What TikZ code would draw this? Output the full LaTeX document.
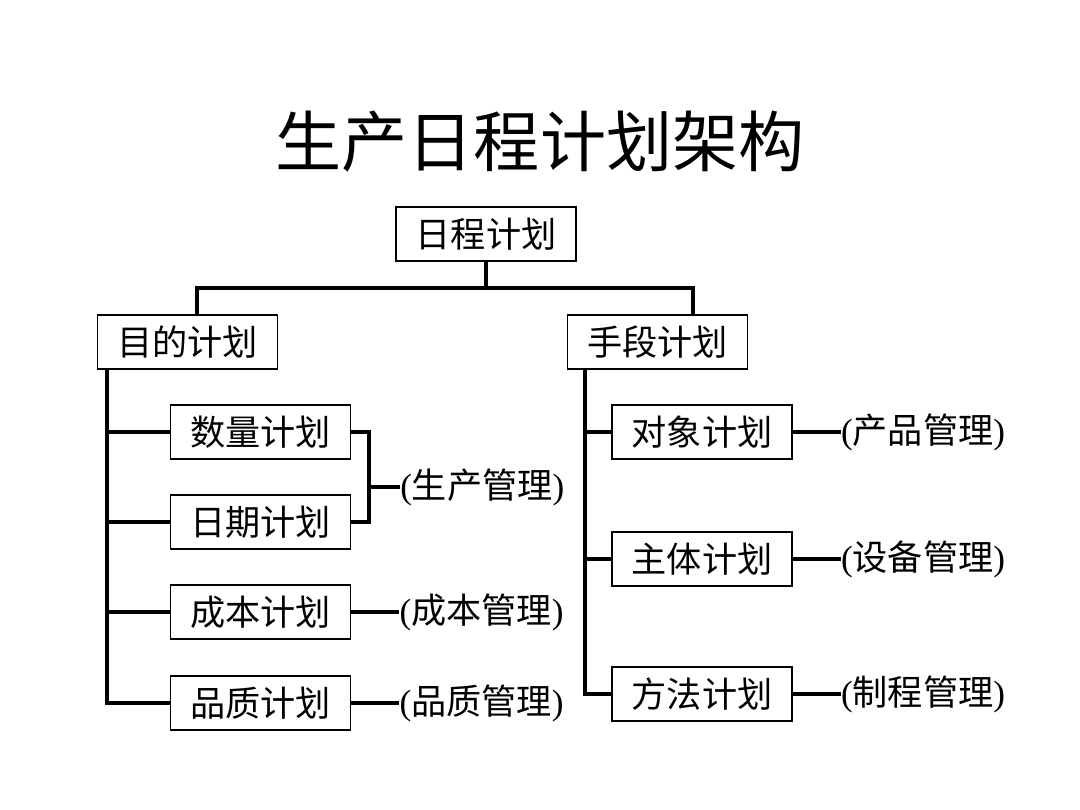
\documentclass[tikz,border=0pt]{standalone}
\usepackage{fontspec}
\setmainfont{Liberation Serif}
\newfontfamily\cjk{Noto Sans CJK SC}
\usetikzlibrary{positioning}
\newcommand{\mgmtlabel}[1]{({\cjk #1})}

\begin{document}
\begin{tikzpicture}[
  x=0.025cm, y=-0.025cm,
  node distance=1.2cm,
  plan/.style={rectangle, draw, line width=1.1pt, minimum width=4.5cm, minimum height=1.35cm, inner sep=0pt, font=\cjk\fontsize{25}{25}\selectfont},
  mgmt/.style={inner sep=0pt, font=\fontsize{25}{25}\selectfont},
  link/.style={line width=2.5pt},
]
  \useasboundingbox (0,0) rectangle (1080,810);
  \node[font=\cjk\fontsize{47}{47}\selectfont] (title) at (540,142) {生产日程计划架构};
  \node[plan] (root) at (486,234) {日程计划};
  \node[plan] (goal) at (187.5,342) {目的计划};
  \node[plan] (means) at (657.5,342) {手段计划};
  % goal side
  \node[plan] (qty) at (260.5,432) {数量计划};
  \node[plan] (date) at (260.5,522) {日期计划};
  \node[plan] (cost) at (260.5,612) {成本计划};
  \node[plan] (qual) at (260.5,703) {品质计划};
  % means side
  \node[plan] (object) at (702,432) {对象计划};
  \node[plan] (subject) at (702,559) {主体计划};
  \node[plan] (method) at (702,694) {方法计划};
  % management labels
  \node[mgmt, anchor=west] (prodm) at (400,487) {\mgmtlabel{生产管理}};
  \node[mgmt, right=of cost] (costm) {\mgmtlabel{成本管理}};
  \node[mgmt, right=of qual] (qualm) {\mgmtlabel{品质管理}};
  \node[mgmt, right=of object] (productm) {\mgmtlabel{产品管理}};
  \node[mgmt, right=of subject] (equipm) {\mgmtlabel{设备管理}};
  \node[mgmt, right=of method] (processm) {\mgmtlabel{制程管理}};
  % tree
  \coordinate (barL) at (197,288);
  \coordinate (barR) at (693,288);
  \coordinate (trunkL) at (107,369);
  \coordinate (trunkR) at (585,369);
  \coordinate (brk) at (369,487);
  \draw[link] (root.south) -- (root.south |- barL);
  \draw[link] (barL |- goal.north) -- (barL) -- (barR) -- (barR |- means.north);
  \draw[link] (trunkL) |- (qual.west);
  \draw[link] (trunkL |- qty.west) -- (qty.west);
  \draw[link] (trunkL |- date.west) -- (date.west);
  \draw[link] (trunkL |- cost.west) -- (cost.west);
  \draw[link] (trunkR) |- (method.west);
  \draw[link] (trunkR |- object.west) -- (object.west);
  \draw[link] (trunkR |- subject.west) -- (subject.west);
  % management links
  \draw[link] (qty.east) -| (brk) |- (date.east);
  \draw[link] (brk) -- (prodm.west);
  \draw[link] (cost) -- (costm);
  \draw[link] (qual) -- (qualm);
  \draw[link] (object) -- (productm);
  \draw[link] (subject) -- (equipm);
  \draw[link] (method) -- (processm);
\end{tikzpicture}
\end{document}
